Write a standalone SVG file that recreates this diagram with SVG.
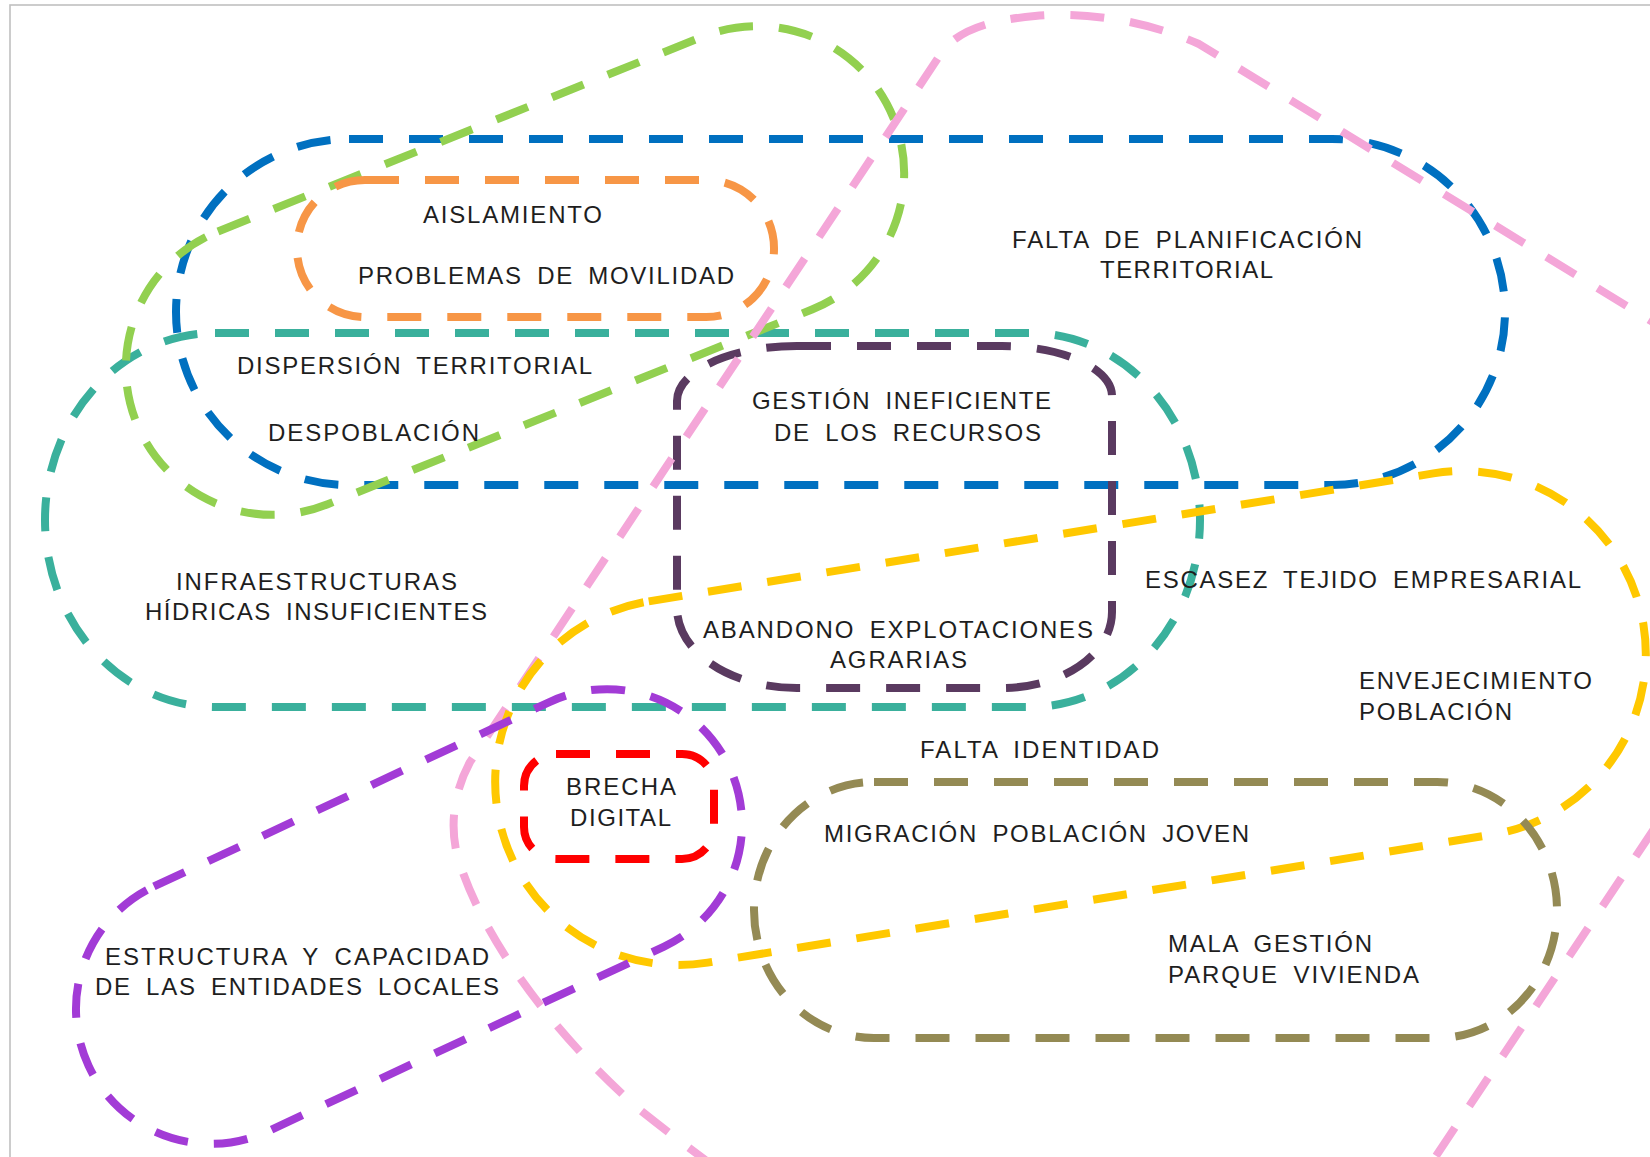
<svg xmlns="http://www.w3.org/2000/svg" width="1650" height="1157" viewBox="0 0 1650 1157">
<style>
.s{fill:none;stroke-width:8;stroke-dasharray:34 26;stroke-linecap:butt}
.t{font-family:"Liberation Sans",Arial,sans-serif;font-size:24px;fill:#1e1e1e;word-spacing:6px}
</style>
<rect x="0" y="0" width="1650" height="1157" fill="#ffffff"/>
<rect id="frame" x="10" y="5" width="1700" height="1200" fill="none" stroke="#c0c0c0" stroke-width="1.6"/>
<g id="shapes">
<g id="teal"><rect class="s" stroke="#3AB09C" x="45" y="333" width="1155" height="374" rx="170" ry="187"/></g>
<g id="blue"><rect class="s" stroke="#0070C0" x="176" y="139" width="1329" height="346" rx="173" ry="173"/></g>
<g id="green"><rect class="s" stroke="#92D050" x="107" y="123.5" width="816" height="294" rx="147" ry="147" transform="rotate(-21.9 515 270.5)"/></g>
<g id="orange"><rect class="s" stroke="#F79646" x="297" y="180" width="477" height="137" rx="68" ry="68"/></g>
<g id="darkpurple"><path class="s" stroke="#5A3A60" d="M797,346 L1002,346 A110,50 0 0 1 1112,396 L1112,612 A110,76 0 0 1 1002,688 L797,688 A120,80 0 0 1 677,608 L677,401 A120,55 0 0 1 797,346 Z"/></g>
<g id="pink"><path class="s" stroke="#F4A6D8" d="M1780,400 L1199,44 C1140,18 1080,12 1035,16 C990,20 956,30 940,55 L470,762 C452,795 448,835 462,870 C490,950 560,1040 640,1110 C690,1150 740,1185 800,1230 L1300,1360 L1700,760 Z"/></g>
<g id="yellow"><rect class="s" stroke="#FFC800" x="490" y="535" width="1161" height="366" rx="183" ry="183" transform="rotate(-9.26 1070.5 718)"/></g>
<g id="purple"><rect class="s" stroke="#A23BD6" x="55.5" y="781.5" width="707" height="270" rx="135" ry="135" transform="rotate(-25 409 916.5)"/></g>
<g id="red"><rect class="s" stroke="#FF0000" x="524" y="754" width="190" height="105" rx="32" ry="32"/></g>
<g id="olive"><rect class="s" stroke="#948A54" x="754" y="782" width="803" height="256" rx="120" ry="128"/></g>
</g>
<g id="connectors"></g>
<g id="labels">
<g id="n-aislamiento"><text class="t" x="423" y="223" textLength="179" lengthAdjust="spacing">AISLAMIENTO</text></g>
<g id="n-movilidad"><text class="t" x="358" y="284" textLength="376" lengthAdjust="spacing">PROBLEMAS DE MOVILIDAD</text></g>
<g id="n-dispersion"><text class="t" x="237" y="374" textLength="355" lengthAdjust="spacing">DISPERSIÓN TERRITORIAL</text></g>
<g id="n-despoblacion"><text class="t" x="268" y="441" textLength="211" lengthAdjust="spacing">DESPOBLACIÓN</text></g>
<g id="n-gestion"><text class="t" x="752" y="409" textLength="299" lengthAdjust="spacing">GESTIÓN INEFICIENTE</text><text class="t" x="774" y="441" textLength="267" lengthAdjust="spacing">DE LOS RECURSOS</text></g>
<g id="n-planificacion"><text class="t" x="1012" y="248" textLength="350" lengthAdjust="spacing">FALTA DE PLANIFICACIÓN</text><text class="t" x="1100" y="278" textLength="173" lengthAdjust="spacing">TERRITORIAL</text></g>
<g id="n-hidricas"><text class="t" x="176" y="590" textLength="281" lengthAdjust="spacing">INFRAESTRUCTURAS</text><text class="t" x="145" y="620" textLength="342" lengthAdjust="spacing">HÍDRICAS INSUFICIENTES</text></g>
<g id="n-escasez"><text class="t" x="1145" y="588" textLength="436" lengthAdjust="spacing">ESCASEZ TEJIDO EMPRESARIAL</text></g>
<g id="n-abandono"><text class="t" x="703" y="638" textLength="390" lengthAdjust="spacing">ABANDONO EXPLOTACIONES</text><text class="t" x="830" y="668" textLength="137" lengthAdjust="spacing">AGRARIAS</text></g>
<g id="n-envejecimiento"><text class="t" x="1359" y="689" textLength="233" lengthAdjust="spacing">ENVEJECIMIENTO</text><text class="t" x="1359" y="720" textLength="153" lengthAdjust="spacing">POBLACIÓN</text></g>
<g id="n-identidad"><text class="t" x="920" y="758" textLength="239" lengthAdjust="spacing">FALTA IDENTIDAD</text></g>
<g id="n-migracion"><text class="t" x="824" y="842" textLength="425" lengthAdjust="spacing">MIGRACIÓN POBLACIÓN JOVEN</text></g>
<g id="n-brecha"><text class="t" x="566" y="795" textLength="110" lengthAdjust="spacing">BRECHA</text><text class="t" x="570" y="826" textLength="101" lengthAdjust="spacing">DIGITAL</text></g>
<g id="n-estructura"><text class="t" x="105" y="965" textLength="384" lengthAdjust="spacing">ESTRUCTURA Y CAPACIDAD</text><text class="t" x="95" y="995" textLength="404" lengthAdjust="spacing">DE LAS ENTIDADES LOCALES</text></g>
<g id="n-vivienda"><text class="t" x="1168" y="952" textLength="204" lengthAdjust="spacing">MALA GESTIÓN</text><text class="t" x="1168" y="983" textLength="251" lengthAdjust="spacing">PARQUE VIVIENDA</text></g>
</g>
</svg>
